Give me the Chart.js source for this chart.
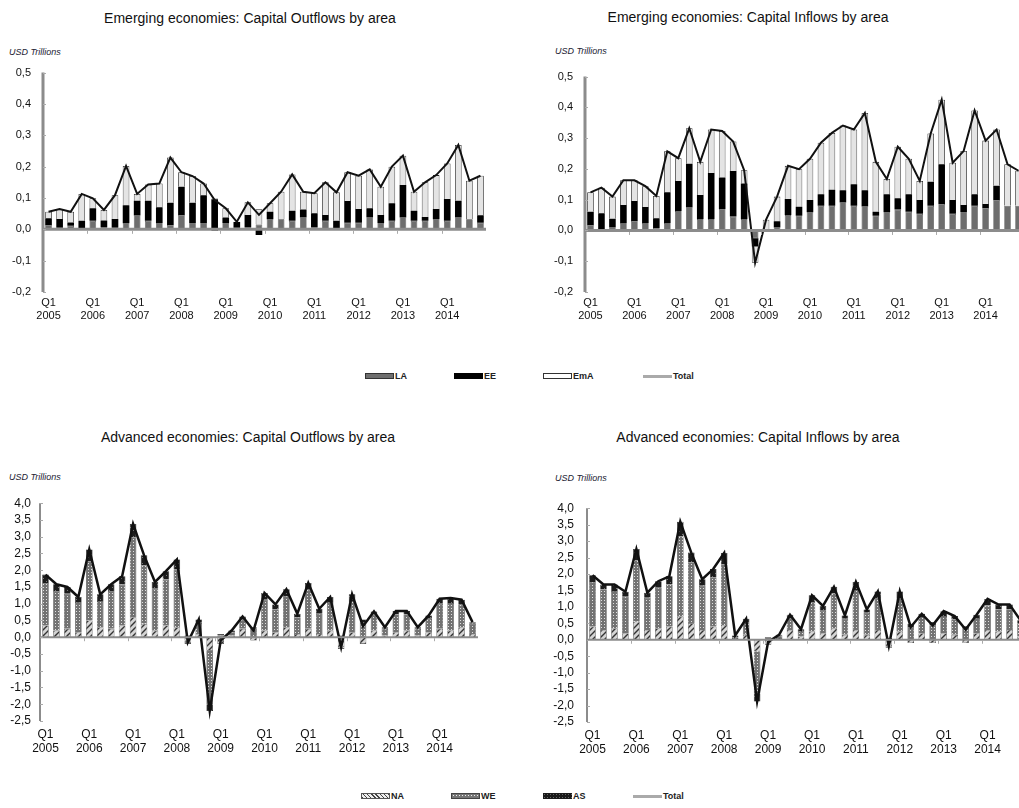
<!DOCTYPE html>
<html>
<head>
<meta charset="utf-8">
<script src="https://cdn.jsdelivr.net/npm/chart.js@4.4.1/dist/chart.umd.min.js"></script>
<style>
  body { margin: 0; width: 1019px; height: 808px; overflow: hidden; background: #fff; position: relative;
         font-family: "Liberation Sans", Arial, sans-serif; }
  .box { position: absolute; }
  .title { position: absolute; font-size: 14px; color: #111; white-space: nowrap; transform: translateX(-50%); }
  .unit { position: absolute; font-size: 9px; font-style: italic; color: #223; white-space: nowrap; }
  .leg { position: absolute; font-size: 9px; font-weight: bold; color: #222; display: flex; align-items: center; white-space: nowrap; }
  .sw { display: inline-block; width: 29px; height: 6px; margin-right: 1px; box-sizing: border-box; }
</style>
</head>
<body>

<div class="title" style="left:250px; top:10px">Emerging economies: Capital Outflows by area</div>
<div class="title" style="left:748px; top:9px">Emerging economies: Capital Inflows by area</div>
<div class="title" style="left:248px; top:429px">Advanced economies: Capital Outflows by area</div>
<div class="title" style="left:758px; top:429px">Advanced economies: Capital Inflows by area</div>

<div class="unit" style="left:9px; top:47px">USD Trillions</div>
<div class="unit" style="left:555px; top:46px">USD Trillions</div>
<div class="unit" style="left:9px; top:472px">USD Trillions</div>
<div class="unit" style="left:555px; top:473px">USD Trillions</div>

<div class="box" style="left:0; top:54px"><canvas id="emOut" width="490" height="268"></canvas></div>
<div class="box" style="left:540px; top:58px"><canvas id="emIn" width="490" height="264"></canvas></div>
<div class="box" style="left:0; top:487px"><canvas id="adOut" width="482" height="270"></canvas></div>
<div class="box" style="left:540px; top:488px"><canvas id="adIn" width="492" height="270"></canvas></div>

<div class="leg" style="left:365px; top:371px"><span class="sw" style="background:#6e6e6e;border:1px solid #333"></span>LA</div>
<div class="leg" style="left:454px; top:371px"><span class="sw" style="background:#000"></span>EE</div>
<div class="leg" style="left:543px; top:371px"><span class="sw" style="background:#fff;border:1px solid #333"></span>EmA</div>
<div class="leg" style="left:643px; top:371px"><span class="sw" style="height:3px;background:#aaa"></span>Total</div>

<div class="leg" style="left:361px; top:791px"><span class="sw" style="background:repeating-linear-gradient(45deg,#444 0 1px,#eee 1px 3px);border:1px solid #555"></span>NA</div>
<div class="leg" style="left:451px; top:791px"><span class="sw" style="background:radial-gradient(circle,#eee 0.8px,#777 1px) 0 0/3px 3px;border:1px solid #444"></span>WE</div>
<div class="leg" style="left:543px; top:791px"><span class="sw" style="background:radial-gradient(circle,#666 0.7px,#1a1a1a 1px) 0 0/3px 3px"></span>AS</div>
<div class="leg" style="left:633px; top:791px"><span class="sw" style="height:3px;background:#aaa"></span>Total</div>

<script>
// quarters 2005Q1 .. 2014Q4
const years = [2005, 2006, 2007, 2008, 2009, 2010, 2011, 2012, 2013, 2014];
const quarters = [];
years.forEach(y => ['Q1', 'Q2', 'Q3', 'Q4'].forEach(q => quarters.push(q + ' ' + y)));

// Emerging economies, outflows (USD trillions)
const emOutLA  = [0.014,0.005,0.011,0.003,0.027,0.006,0.005,0.019,0.044,0.027,0.019,0.014,0.046,0.019,0.019,-0.005,0.019,0.005,0.006,0.015,
                  0.032,0.032,0.027,0.038,0.006,0.027,0.000,0.021,0.021,0.038,0.019,0.027,0.038,0.027,0.027,0.032,0.027,0.038,0.032,0.021];
const emOutEE  = [0.021,0.028,0.011,0.024,0.040,0.022,0.028,0.058,0.047,0.064,0.051,0.071,0.090,0.066,0.090,0.096,0.019,0.018,0.040,-0.018,
                  0.024,0.000,0.032,0.025,0.045,0.019,0.027,0.069,0.044,0.029,0.027,0.056,0.103,0.032,0.012,0.033,0.070,0.053,0.000,0.024];
const emOutEmA = [0.021,0.032,0.034,0.086,0.032,0.034,0.076,0.125,0.022,0.052,0.076,0.144,0.046,0.085,0.037,0.002,0.029,0.001,0.040,0.049,
                  0.027,0.088,0.116,0.057,0.064,0.104,0.091,0.092,0.106,0.124,0.090,0.117,0.094,0.061,0.111,0.108,0.113,0.178,0.123,0.126];
const emOutTot = [0.056,0.065,0.056,0.113,0.099,0.062,0.109,0.202,0.113,0.143,0.146,0.229,0.182,0.170,0.146,0.093,0.067,0.024,0.086,0.046,
                  0.083,0.120,0.175,0.120,0.115,0.150,0.118,0.182,0.171,0.191,0.136,0.200,0.235,0.120,0.150,0.173,0.210,0.269,0.155,0.171];

// Emerging economies, inflows
const emInLA  = [0.018,0.004,0.010,0.024,0.031,0.024,0.008,0.024,0.063,0.075,0.037,0.037,0.070,0.045,0.037,-0.025,0.005,0.010,0.050,0.048,
                 0.059,0.080,0.080,0.091,0.080,0.078,0.048,0.059,0.068,0.061,0.054,0.080,0.086,0.054,0.059,0.080,0.073,0.099,0.080,0.080];
const emInEE  = [0.043,0.052,0.028,0.059,0.065,0.052,0.032,0.100,0.098,0.142,0.078,0.150,0.102,0.148,0.116,-0.027,0.000,0.020,0.052,0.029,
                 0.040,0.038,0.052,0.040,0.070,0.053,0.013,0.059,0.037,0.057,0.045,0.078,0.129,0.045,0.024,0.038,0.013,0.046,0.000,0.000];
const emInEmA = [0.063,0.083,0.072,0.080,0.067,0.068,0.072,0.133,0.074,0.115,0.108,0.141,0.151,0.096,0.043,-0.053,0.030,0.080,0.108,0.122,
                 0.134,0.167,0.185,0.210,0.178,0.251,0.162,0.049,0.167,0.115,0.062,0.157,0.210,0.121,0.175,0.272,0.206,0.183,0.135,0.114];
const emInTot = [0.124,0.139,0.110,0.163,0.163,0.144,0.112,0.257,0.235,0.332,0.223,0.328,0.323,0.289,0.196,-0.105,0.035,0.110,0.210,0.199,
                 0.233,0.285,0.317,0.341,0.328,0.382,0.223,0.167,0.272,0.233,0.161,0.315,0.425,0.220,0.258,0.390,0.292,0.328,0.215,0.194];

// Advanced economies, outflows
const adOutNA  = [0.35,0.20,0.25,0.15,0.50,0.30,0.25,0.35,0.60,0.40,0.20,0.35,0.30,-0.10,0.10,-0.40,-0.20,0.05,0.25,-0.10,
                  0.20,0.15,0.30,0.10,0.25,0.10,0.20,-0.30,0.15,-0.20,0.20,0.05,0.15,0.20,0.05,0.15,0.25,0.20,0.30,0.10];
const adOutWE  = [1.27,1.18,1.05,0.90,1.77,0.78,1.13,1.22,2.38,1.75,1.25,1.37,1.72,-0.10,0.33,-1.60,0.05,0.10,0.27,0.25,
                  0.92,0.68,0.93,0.50,1.17,0.60,0.85,-0.05,0.93,0.43,0.47,0.20,0.53,0.48,0.20,0.40,0.75,0.82,0.67,0.30];
const adOutAS  = [0.25,0.20,0.20,0.15,0.35,0.20,0.20,0.25,0.40,0.30,0.20,0.25,0.30,0.05,0.10,-0.20,0.05,0.05,0.10,0.05,
                  0.20,0.15,0.20,0.10,0.20,0.15,0.15,0.05,0.20,0.10,0.10,0.05,0.10,0.10,0.05,0.10,0.15,0.15,0.15,0.05];
const adOutTot = [1.87,1.58,1.50,1.20,2.62,1.28,1.58,1.82,3.38,2.45,1.65,1.97,2.32,-0.15,0.53,-2.20,-0.10,0.20,0.62,0.20,
                  1.32,0.98,1.43,0.70,1.62,0.85,1.20,-0.30,1.28,0.33,0.77,0.30,0.78,0.78,0.30,0.65,1.15,1.17,1.12,0.45];

// Advanced economies, inflows
const adInNA  = [0.40,0.30,0.35,0.20,0.55,0.30,0.35,0.40,0.70,0.50,0.30,0.40,0.45,0.05,0.15,-0.35,-0.15,0.05,0.30,0.10,
                 0.25,0.20,0.35,0.15,0.30,0.15,0.30,-0.20,0.25,-0.10,0.20,-0.10,0.20,0.15,-0.10,0.20,0.30,0.25,0.30,0.10];
const adInWE  = [1.36,1.23,1.13,1.11,1.86,0.98,1.23,1.28,2.44,1.85,1.34,1.50,1.84,0.03,0.39,-1.28,0.03,0.07,0.36,0.17,
                 0.90,0.68,1.06,0.49,1.21,0.67,0.97,-0.04,1.02,0.39,0.49,0.44,0.52,0.47,0.36,0.46,0.74,0.67,0.62,0.39];
const adInAS  = [0.20,0.15,0.20,0.15,0.35,0.15,0.20,0.25,0.45,0.30,0.20,0.25,0.35,0.05,0.10,-0.25,0.05,0.03,0.10,0.05,
                 0.20,0.15,0.20,0.10,0.25,0.10,0.20,0.05,0.20,0.10,0.10,0.10,0.15,0.10,0.05,0.10,0.20,0.15,0.15,0.10];
const adInTot = [1.96,1.68,1.68,1.46,2.76,1.43,1.78,1.93,3.59,2.65,1.84,2.15,2.64,0.13,0.64,-1.88,-0.07,0.15,0.76,0.32,
                 1.35,1.03,1.61,0.74,1.76,0.92,1.47,-0.19,1.47,0.39,0.79,0.44,0.87,0.72,0.31,0.76,1.24,1.07,1.07,0.59];

Chart.defaults.font.family = "'Liberation Sans', Arial, sans-serif";
Chart.defaults.color = '#111';

function makePattern(bg, draw) {
  const c = document.createElement('canvas');
  c.width = 6; c.height = 6;
  const x = c.getContext('2d');
  x.fillStyle = bg;
  x.fillRect(0, 0, 6, 6);
  draw(x);
  return x.createPattern(c, 'repeat');
}

const naFill = makePattern('#d4d4d4', x => {
  x.strokeStyle = '#333'; x.lineWidth = 1.4;
  x.beginPath(); x.moveTo(-1, 7); x.lineTo(7, -1); x.moveTo(-1, 1); x.lineTo(1, -1); x.moveTo(5, 7); x.lineTo(7, 5); x.stroke();
});
const weFill = makePattern('#727272', x => {
  x.fillStyle = '#e0e0e0';
  x.fillRect(1, 1, 1, 1); x.fillRect(4, 4, 1, 1); x.fillRect(4, 1, 1, 1); x.fillRect(1, 4, 1, 1);
});
const asFill = makePattern('#1c1c1c', x => {
  x.fillStyle = '#777';
  x.fillRect(1, 1, 1, 1); x.fillRect(4, 4, 1, 1);
});

// draws the zero line, y axis line and small tick marks on top of the bars
const axisLines = {
  id: 'axisLines',
  afterDatasetsDraw(chart, args, opts) {
    const { ctx, chartArea: a, scales } = chart;
    const y0 = scales.y.getPixelForValue(0);
    ctx.save();
    ctx.strokeStyle = '#8c8c8c';
    ctx.lineWidth = opts.width;
    ctx.beginPath();
    ctx.moveTo(a.left, y0); ctx.lineTo(a.right, y0);
    ctx.moveTo(a.left, a.top); ctx.lineTo(a.left, a.bottom);
    ctx.stroke();
    ctx.lineWidth = 1;
    ctx.strokeStyle = '#aaa';
    ctx.beginPath();
    scales.y.ticks.forEach(t => {
      const py = Math.round(scales.y.getPixelForValue(t.value)) + 0.5;
      ctx.moveTo(a.left, py); ctx.lineTo(a.left + 3, py);
    });
    const step = (a.right - a.left) / quarters.length;
    for (let i = 4; i < quarters.length; i += 4) {
      const px = Math.round(a.left + i * step) + 0.5;
      ctx.moveTo(px, y0 + opts.width / 2); ctx.lineTo(px, y0 + opts.width / 2 + 3);
    }
    ctx.stroke();
    ctx.restore();
  }
};

function panel(id, bars, total, o) {
  const datasets = bars.map(b => ({
    type: 'bar',
    data: b.data,
    backgroundColor: b.fill,
    borderColor: b.border,
    borderWidth: b.bw,
    stack: 'areas',
    barPercentage: o.barPct,
    categoryPercentage: 1,
    order: 2
  }));
  datasets.push({
    type: 'line',
    data: total,
    borderColor: '#111',
    borderWidth: o.lineW,
    pointRadius: 0,
    tension: 0,
    stack: 'total',
    order: 1
  });
  new Chart(document.getElementById(id), {
    data: { labels: quarters, datasets },
    plugins: [axisLines],
    options: {
      responsive: false,
      animation: false,
      layout: { padding: { top: 1, right: o.padRight, left: 0, bottom: 0 } },
      plugins: { legend: { display: false }, tooltip: { enabled: false }, axisLines: { width: o.axisW } },
      scales: {
        x: {
          stacked: true,
          offset: true,
          grid: { display: false, drawTicks: false },
          border: { display: false },
          afterFit: s => { s.height = o.xH; },
          ticks: {
            autoSkip: false, maxRotation: 0, padding: o.xPad,
            font: { size: o.xFont }, color: '#111',
            callback: (v, i) => i % 4 === 0 ? ['Q1', String(years[i / 4])] : ''
          }
        },
        y: {
          stacked: true,
          min: o.min, max: o.max,
          grid: { display: false, drawTicks: false },
          border: { display: false },
          afterFit: s => { s.width = o.yW; },
          ticks: {
            autoSkip: false,
            stepSize: o.step, padding: o.yPad,
            font: { size: o.yFont }, color: '#111',
            callback: v => (Math.abs(v) < 1e-9 ? 0 : v).toFixed(1).replace('.', ',')
          }
        }
      }
    }
  });
}

const laStyle  = { fill: '#6e6e6e', border: '#3a3a3a', bw: 0.6 };
const eeStyle  = { fill: '#000000', border: '#000000', bw: 0 };
const emaStyle = { fill: '#e4e4e4', border: '#222222', bw: 0.8 };
const emOpts = { barPct: 0.6, lineW: 2, axisW: 3, min: -0.2, max: 0.5, step: 0.1, xH: 30, xPad: 4, xFont: 11, yFont: 11 };

panel('emOut', [
  { data: emOutLA, ...laStyle }, { data: emOutEE, ...eeStyle }, { data: emOutEmA, ...emaStyle }
], emOutTot, { ...emOpts, padRight: 4, yW: 43, yPad: 12 });

panel('emIn', [
  { data: emInLA, ...laStyle }, { data: emInEE, ...eeStyle }, { data: emInEmA, ...emaStyle }
], emInTot, { ...emOpts, padRight: 6, yW: 45, yPad: 12 });

const adBars = (na, we, as) => [
  { data: na, fill: naFill, border: '#333', bw: 0.6 },
  { data: we, fill: weFill, border: '#333', bw: 0.6 },
  { data: as, fill: asFill, border: '#111', bw: 0.6 }
];
const adOpts = { barPct: 0.6, lineW: 2.5, axisW: 2, min: -2.5, max: 4, step: 0.5, xH: 36, xPad: 6, xFont: 12, yFont: 12 };

panel('adOut', adBars(adOutNA, adOutWE, adOutAS), adOutTot, { ...adOpts, padRight: 4, yW: 40, yPad: 9 });
panel('adIn', adBars(adInNA, adInWE, adInAS), adInTot, { ...adOpts, padRight: 6, yW: 47, yPad: 13 });
</script>
</body>
</html>
